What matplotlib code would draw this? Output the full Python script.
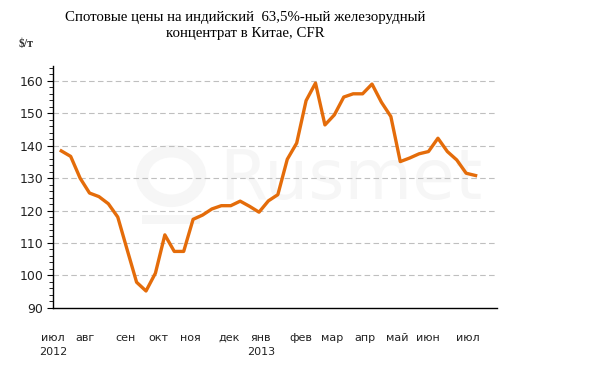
import matplotlib
matplotlib.use("Agg")
import matplotlib.pyplot as plt
from matplotlib.patches import Ellipse, Rectangle
import numpy as np

# weekly spot prices, $/t (Jul 2012 - May 2013)
PRICES = [138.4, 136.7, 130.0, 125.4, 124.3, 122.1, 118.0, 107.9, 97.9, 95.2,
          100.7, 112.5, 107.4, 107.4, 117.3, 118.6, 120.5, 121.5, 121.5, 122.9,
          121.3, 119.5, 123.0, 124.9, 135.8, 140.8, 153.9, 159.3, 146.4, 149.5,
          155.0, 156.0, 156.0, 159.0, 153.4, 149.0, 135.1, 136.2, 137.5, 138.2,
          142.3, 138.2, 135.6, 131.5, 130.8]
MONTHS = ["июл\n2012", "авг", "сен", "окт", "ноя", "дек", "янв\n2013",
          "фев", "мар", "апр", "май", "июн", "июл"]
# where each month label sits, in week units
MONTH_POS = [-0.88, 2.53, 6.80, 10.29, 13.66, 17.78, 21.22,
             25.45, 28.80, 32.21, 35.63, 38.97, 43.13]

ORANGE = "#E46C0A"
WM = "#f6f6f6"

fig = plt.figure(figsize=(6.02, 3.81), dpi=100)
ax = fig.add_axes([0.088, 0.192, 0.738, 0.635])

# faint Rusmet watermark
ax.text(0.67, 0.53, "Rusmet", transform=ax.transAxes, fontsize=50,
        color=WM, ha="center", va="center", zorder=0)
ax.add_patch(Ellipse((0.266, 0.545), 0.13, 0.205, transform=ax.transAxes,
                     fill=False, ec=WM, lw=9, zorder=0))
ax.add_patch(Rectangle((0.2, 0.345), 0.13, 0.04, transform=ax.transAxes,
                       fc=WM, ec="none", zorder=0))

x = np.arange(len(PRICES))
ax.plot(x, PRICES, color=ORANGE, lw=2.4, solid_joinstyle="round", zorder=3)

ax.set_ylim(90, 164.6)
ax.set_xlim(-0.56, 46.3)
ax.set_yticks(np.arange(90, 161, 10))
ax.set_yticks(np.arange(90, 165, 2), minor=True)
for v in range(100, 161, 10):
    ax.axhline(v, color="#bfbfbf", lw=0.8, ls=(0, (5, 3)), zorder=1)

ax.set_xticks(MONTH_POS)
ax.set_xticklabels(MONTHS, fontsize=8, color="#222222", va="top",
                   linespacing=1.5)
ax.tick_params(axis="x", length=0, pad=18)
ax.tick_params(axis="y", which="major", length=4, labelsize=9,
               labelcolor="#222222", pad=3)
ax.tick_params(axis="y", which="minor", length=3)
for lab in ax.get_xticklabels():
    lab.set_horizontalalignment("center")

for s in ("top", "right"):
    ax.spines[s].set_visible(False)
ax.spines["left"].set_linewidth(1.0)
ax.spines["bottom"].set_linewidth(1.0)

fig.text(0.407, 0.972, "Спотовые цены на индийский  63,5%-ный железорудный\nконцентрат в Китае, CFR",
         ha="center", va="top", fontsize=10.7, family="Liberation Serif",
         linespacing=1.3)
fig.text(0.043, 0.885, "$/т", ha="center", va="center", fontsize=8.5,
         family="Liberation Serif", weight="bold", color="#333333")

fig.savefig("out.png", dpi=100)
